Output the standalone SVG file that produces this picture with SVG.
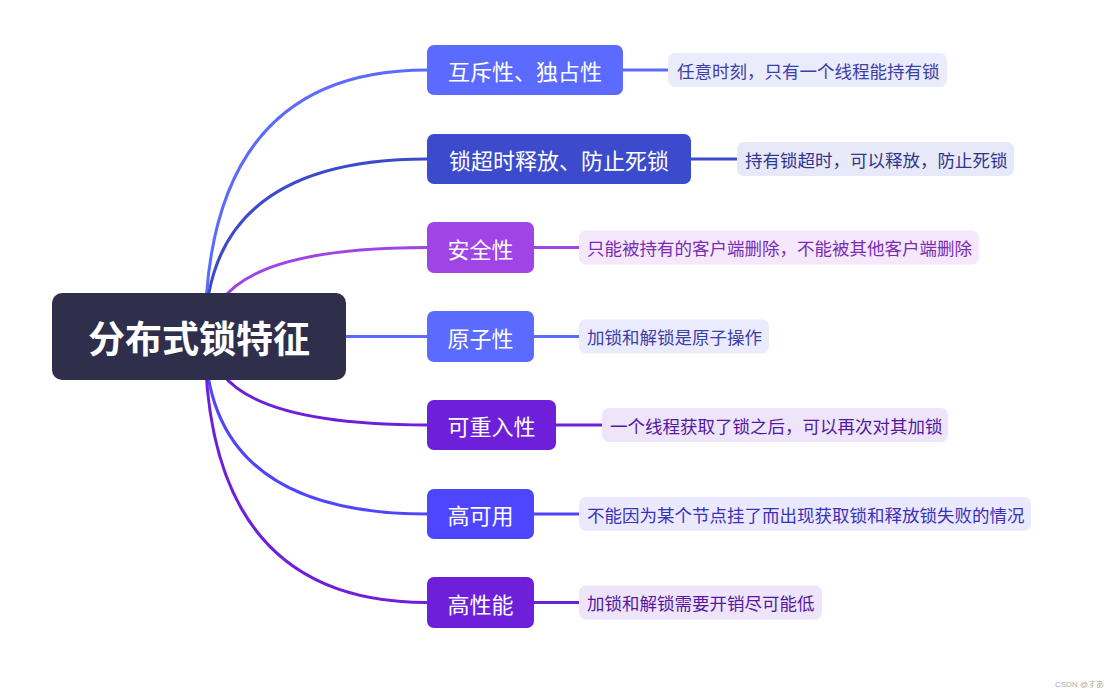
<svg xmlns="http://www.w3.org/2000/svg" width="1114" height="698" viewBox="0 0 1114 698">
<style>
.conn{fill:none;stroke-width:3;stroke-linecap:round}
.nt{font-family:"Noto Sans CJK SC","Noto Sans",sans-serif;font-size:22px;fill:#ffffff;text-anchor:middle;dominant-baseline:central}
.lt{font-family:"Noto Sans CJK SC","Noto Sans",sans-serif;font-size:17.5px;dominant-baseline:central}
.rt{font-family:"Noto Sans CJK SC","Noto Sans",sans-serif;font-size:37px;font-weight:bold;fill:#ffffff;text-anchor:middle;dominant-baseline:central}
</style>
<rect width="1114" height="698" fill="#ffffff"/>
<g id="connectors">
<path class="conn" stroke="#5B6BFF" d="M205 337 Q205 70 427 70"/>
<path class="conn" stroke="#3C4BCC" d="M205 337 Q205 159 427 159"/>
<path class="conn" stroke="#A044E6" d="M210 337 Q210 247.5 427 247.5"/>
<path class="conn" stroke="#5B6BFF" d="M205 336.5 L427 336.5"/>
<path class="conn" stroke="#6D1FD9" d="M210 337 Q210 425 427 425"/>
<path class="conn" stroke="#4E45FF" d="M205 337 Q205 514 427 514"/>
<path class="conn" stroke="#6D1FD9" d="M205 337 Q205 602.5 427 602.5"/>
<line class="conn" stroke="#5B6BFF" x1="623" y1="70" x2="668" y2="70"/>
<line class="conn" stroke="#3C4BCC" x1="691" y1="159" x2="737" y2="159"/>
<line class="conn" stroke="#A044E6" x1="534" y1="247.5" x2="579" y2="247.5"/>
<line class="conn" stroke="#5B6BFF" x1="534" y1="336.5" x2="579" y2="336.5"/>
<line class="conn" stroke="#6D1FD9" x1="556" y1="425" x2="602" y2="425"/>
<line class="conn" stroke="#4E45FF" x1="534" y1="514" x2="579" y2="514"/>
<line class="conn" stroke="#6D1FD9" x1="534" y1="602.5" x2="579" y2="602.5"/>
</g>
<g id="root">
<rect x="52" y="293" width="294" height="87" rx="10" fill="#2F2E4B"/>
<text class="rt" x="199" y="337">分布式锁特征</text>
</g>
<g id="n1">
<rect x="427" y="45" width="196" height="50" rx="7" fill="#5B6BFF"/>
<text class="nt" x="525" y="70">互斥性、独占性</text>
</g>
<g id="l1">
<rect x="668" y="53" width="279" height="34" rx="7" fill="#EAEBFB"/>
<text class="lt" x="677" y="70" fill="#3B40A8">任意时刻，只有一个线程能持有锁</text>
</g>
<g id="n2">
<rect x="427" y="134" width="264" height="50" rx="7" fill="#3C4BCC"/>
<text class="nt" x="559" y="159">锁超时释放、防止死锁</text>
</g>
<g id="l2">
<rect x="737" y="142" width="277" height="34" rx="7" fill="#E8E9F8"/>
<text class="lt" x="745" y="159" fill="#2F3590">持有锁超时，可以释放，防止死锁</text>
</g>
<g id="n3">
<rect x="427" y="222" width="107" height="51" rx="7" fill="#A044E6"/>
<text class="nt" x="480.5" y="247.5">安全性</text>
</g>
<g id="l3">
<rect x="579" y="230.5" width="400" height="34" rx="7" fill="#F5E8FC"/>
<text class="lt" x="587" y="247.5" fill="#7A2DB0">只能被持有的客户端删除，不能被其他客户端删除</text>
</g>
<g id="n4">
<rect x="427" y="311" width="107" height="51" rx="7" fill="#5B6BFF"/>
<text class="nt" x="480.5" y="336.5">原子性</text>
</g>
<g id="l4">
<rect x="579" y="319.5" width="190" height="34" rx="7" fill="#EBEBFE"/>
<text class="lt" x="587" y="336.5" fill="#3B40A8">加锁和解锁是原子操作</text>
</g>
<g id="n5">
<rect x="427" y="400" width="129" height="50" rx="7" fill="#6D1FD9"/>
<text class="nt" x="491.5" y="425">可重入性</text>
</g>
<g id="l5">
<rect x="602" y="408" width="346" height="34" rx="7" fill="#EEE5FB"/>
<text class="lt" x="610" y="425" fill="#55189F">一个线程获取了锁之后，可以再次对其加锁</text>
</g>
<g id="n6">
<rect x="427" y="489" width="107" height="50" rx="7" fill="#4E45FF"/>
<text class="nt" x="480.5" y="514">高可用</text>
</g>
<g id="l6">
<rect x="579" y="497" width="452" height="34" rx="7" fill="#EBE9FF"/>
<text class="lt" x="587" y="514" fill="#3A32B8">不能因为某个节点挂了而出现获取锁和释放锁失败的情况</text>
</g>
<g id="n7">
<rect x="427" y="577" width="107" height="51" rx="7" fill="#6D1FD9"/>
<text class="nt" x="480.5" y="602.5">高性能</text>
</g>
<g id="l7">
<rect x="579" y="585.5" width="243" height="34" rx="7" fill="#EEE5FB"/>
<text class="lt" x="587" y="602.5" fill="#55189F">加锁和解锁需要开销尽可能低</text>
</g>
<text x="1104" y="687" font-family="'Liberation Sans','Noto Sans CJK JP',sans-serif" font-size="8" fill="#aaaaaa" text-anchor="end">CSDN @すあ</text>
</svg>
